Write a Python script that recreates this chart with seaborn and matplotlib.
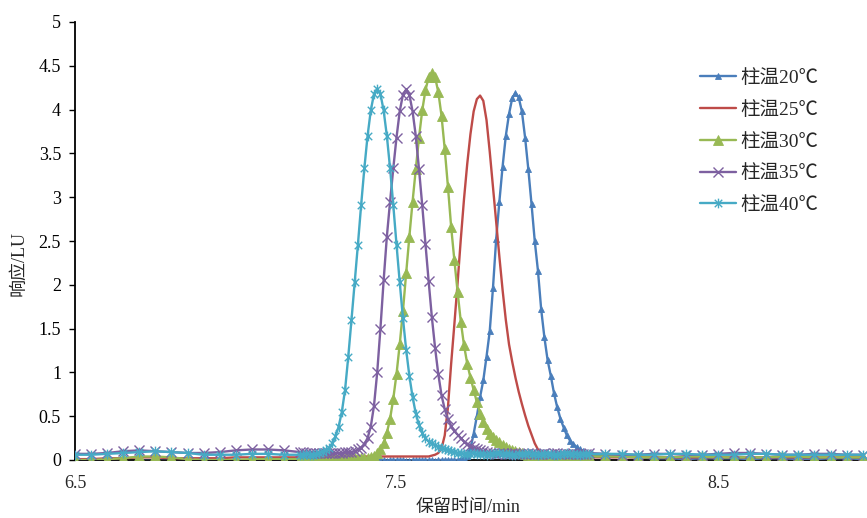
import numpy as np
import pandas as pd
import matplotlib
matplotlib.use("Agg")
import matplotlib.pyplot as plt
import seaborn as sns
from matplotlib.path import Path

# ---------------- data ----------------
series_names = ["柱温20℃", "柱温25℃", "柱温30℃", "柱温35℃", "柱温40℃"]

x_left = [6.50, 6.55, 6.60, 6.65, 6.70, 6.75, 6.80, 6.85, 6.90, 6.95, 7.00, 7.05, 7.10, 7.15]
x_fine = np.round(np.arange(7.20, 8.105, 0.01), 2)  # sampling grid 7.20 ... 8.10
x_right = [8.15, 8.20, 8.25, 8.30, 8.35, 8.40, 8.45, 8.50, 8.55, 8.60, 8.65, 8.70, 8.75, 8.80, 8.85, 8.90, 8.95]

# 柱温20℃
y20_left = [0.00, -0.02, -0.03, -0.02, -0.01, -0.01, -0.01, -0.03, -0.02, -0.01, -0.01, -0.02, -0.01, -0.01]
y20_fine = [0.00, -0.01, -0.01, 0.00, 0.00, -0.01, -0.02, -0.01, 0.00, 0.00,
            -0.01, -0.01, 0.00, 0.00, 0.00, -0.01, -0.01, 0.00, 0.00, 0.00,
            0.00, -0.01, -0.01, 0.00, 0.00, 0.00, 0.00, -0.01, 0.00, 0.00,
            0.00, 0.00, 0.00, -0.01, -0.01, 0.00, 0.00, 0.00, 0.00, 0.00,
            0.00, 0.00, -0.01, 0.00, 0.00, 0.00, 0.00, 0.00, 0.00, 0.00,
            0.01, 0.02,
            0.05, 0.13, 0.30, 0.50, 0.72, 0.91, 1.18, 1.47, 1.96, 2.52, 2.95, 3.35, 3.70, 3.95, 4.13,
            4.19,
            4.14, 3.98, 3.68, 3.32, 2.92, 2.50, 2.16, 1.72, 1.40, 1.14, 0.96, 0.76, 0.60, 0.47,
            0.37, 0.28, 0.22, 0.18, 0.15, 0.12, 0.10, 0.08, 0.06]
y20_right = [0.05, 0.04, 0.03, 0.02, 0.02, 0.01, 0.02, 0.02, 0.02, 0.01, 0.02, 0.02, 0.01, 0.01, 0.02, 0.02, 0.01]

# 柱温25℃
y25_left = [0.01, 0.01, 0.02, 0.02, 0.03, 0.03, 0.02, 0.02, 0.02, 0.02, 0.03, 0.03, 0.03, 0.03]
y25_fine = [0.03, 0.03, 0.04, 0.04, 0.04, 0.03, 0.03, 0.04, 0.04, 0.04,
            0.04, 0.04, 0.03, 0.04, 0.04, 0.04, 0.04, 0.04, 0.04, 0.03,
            0.04, 0.04, 0.04, 0.04, 0.04, 0.04, 0.04, 0.04, 0.04, 0.04,
            0.04, 0.04, 0.04, 0.04, 0.04, 0.04, 0.04, 0.04, 0.04, 0.04,
            0.04,
            0.05, 0.06, 0.08, 0.13, 0.28, 0.60, 1.10, 1.55, 2.02, 2.52, 2.98, 3.38, 3.72, 3.98, 4.12,
            4.16,
            4.10, 3.88, 3.52, 3.12, 2.72, 2.32, 1.94, 1.60, 1.32, 1.12, 0.94, 0.78, 0.64, 0.51,
            0.39, 0.29, 0.19, 0.12, 0.08, 0.06, 0.05,
            0.04, 0.04, 0.04, 0.04, 0.04, 0.04, 0.03, 0.03, 0.03, 0.03, 0.03, 0.03, 0.03]
y25_right = [0.03] * 17

# 柱温30℃
y30_left = [0.00, 0.00, 0.01, 0.02, 0.04, 0.04, 0.03, 0.01, 0.00, 0.00, 0.00, 0.01, 0.01, 0.01]
y30_fine = [0.01, 0.02, 0.02, 0.02, 0.01, 0.02, 0.02, 0.02, 0.02, 0.02,
            0.02, 0.02, 0.02, 0.01, 0.02, 0.02, 0.02, 0.02, 0.02, 0.02, 0.02,
            0.02, 0.03, 0.05, 0.08, 0.12, 0.19, 0.31, 0.47, 0.70, 0.98, 1.32, 1.70, 2.13, 2.55,
            2.95, 3.32, 3.68, 3.99, 4.22, 4.37,
            4.42,
            4.37, 4.20, 3.93, 3.55, 3.12, 2.66, 2.28, 1.92, 1.58, 1.31, 1.10, 0.94, 0.80, 0.66,
            0.53, 0.43, 0.35, 0.30, 0.26, 0.23, 0.20, 0.17, 0.15, 0.13, 0.11, 0.10, 0.09, 0.08,
            0.07, 0.06, 0.05,
            0.04, 0.04, 0.04, 0.05, 0.04, 0.04, 0.04, 0.03, 0.04, 0.04, 0.04, 0.04, 0.03, 0.04,
            0.04, 0.04, 0.04, 0.04]
y30_right = [0.04, 0.04, 0.03, 0.03, 0.03, 0.04, 0.04, 0.03, 0.03, 0.03, 0.03, 0.04, 0.04, 0.03, 0.03, 0.03, 0.03]

# 柱温35℃
y35_left = [0.07, 0.07, 0.08, 0.10, 0.11, 0.10, 0.09, 0.08, 0.08, 0.09, 0.11, 0.12, 0.12, 0.11]
y35_fine = [0.09, 0.09, 0.08, 0.08, 0.08, 0.08, 0.08, 0.08, 0.08, 0.08, 0.08, 0.08, 0.08, 0.08,
            0.09, 0.09,
            0.09, 0.10, 0.12, 0.14, 0.18, 0.25, 0.38, 0.62, 1.00, 1.50, 2.05, 2.55, 2.95, 3.33,
            3.68, 3.98, 4.17,
            4.23,
            4.17, 3.98, 3.70, 3.32, 2.91, 2.47, 2.04, 1.63, 1.28, 0.98, 0.74, 0.58, 0.47, 0.39,
            0.33, 0.29, 0.25, 0.21, 0.18, 0.16, 0.14, 0.12, 0.11, 0.10, 0.09, 0.08,
            0.08, 0.07, 0.08, 0.08, 0.07, 0.07, 0.08, 0.08, 0.07, 0.07,
            0.07, 0.08, 0.08, 0.07, 0.07, 0.07, 0.08, 0.07, 0.07, 0.08,
            0.08, 0.07, 0.07, 0.07, 0.07, 0.08, 0.07, 0.07, 0.07, 0.07, 0.08]
y35_right = [0.07, 0.06, 0.06, 0.07, 0.07, 0.06, 0.06, 0.07, 0.08, 0.08, 0.07, 0.06, 0.06, 0.07, 0.07, 0.06, 0.06]

# 柱温40℃
y40_left = [0.06, 0.06, 0.07, 0.08, 0.09, 0.10, 0.09, 0.08, 0.06, 0.06, 0.06, 0.07, 0.07, 0.06]
y40_fine = [0.06, 0.06, 0.07, 0.06, 0.06, 0.07,
            0.08, 0.09, 0.11, 0.14, 0.19, 0.27, 0.38, 0.55, 0.80, 1.18, 1.60, 2.03, 2.46, 2.91,
            3.33, 3.70, 3.99, 4.18,
            4.24,
            4.18, 3.99, 3.70, 3.33, 2.91, 2.46, 2.03, 1.62, 1.26, 0.96, 0.72, 0.53, 0.40, 0.31,
            0.25, 0.21, 0.19, 0.17, 0.15, 0.14, 0.12, 0.11, 0.10, 0.09, 0.08, 0.08, 0.07,
            0.07, 0.07, 0.08, 0.07, 0.07, 0.07, 0.06, 0.07, 0.07, 0.08,
            0.08, 0.07, 0.07, 0.07, 0.06, 0.06, 0.07, 0.07, 0.07, 0.08,
            0.07, 0.07, 0.06, 0.07, 0.07, 0.07, 0.07, 0.06, 0.06, 0.07,
            0.07, 0.08, 0.07, 0.07, 0.07, 0.06, 0.07, 0.07, 0.07]
y40_right = [0.07, 0.07, 0.06, 0.06, 0.07, 0.07, 0.06, 0.06, 0.06, 0.07, 0.07, 0.06, 0.06, 0.06, 0.06, 0.06, 0.06]

y_ticks = [0, 0.5, 1, 1.5, 2, 2.5, 3, 3.5, 4, 4.5, 5]
y_tick_labels = ["0", "0.5", "1", "1.5", "2", "2.5", "3", "3.5", "4", "4.5", "5"]
x_ticks = [6.5, 7.5, 8.5]
x_tick_labels = ["6.5", "7.5", "8.5"]

# ---------------- table ----------------
y_parts = {
    series_names[0]: (y20_left, y20_fine, y20_right),
    series_names[1]: (y25_left, y25_fine, y25_right),
    series_names[2]: (y30_left, y30_fine, y30_right),
    series_names[3]: (y35_left, y35_fine, y35_right),
    series_names[4]: (y40_left, y40_fine, y40_right),
}
x_all = list(x_left) + list(x_fine) + list(x_right)
frames = []
for name in series_names:
    l, f, r = y_parts[name]
    ys = list(l) + list(f) + list(r)
    assert len(ys) == len(x_all), (name, len(ys), len(x_all))
    frames.append(pd.DataFrame({"t": x_all, "r": ys, "s": name}))
df = pd.concat(frames, ignore_index=True)

# ---------------- style ----------------
sns.set_style("white")
plt.rcParams["font.family"] = ["Liberation Serif", "Noto Sans CJK SC", "DejaVu Sans"]
plt.rcParams["axes.unicode_minus"] = False

star = Path([(-1, -1), (1, 1), (-1, 1), (1, -1), (0, -1.3), (0, 1.3)],
            [Path.MOVETO, Path.LINETO, Path.MOVETO, Path.LINETO, Path.MOVETO, Path.LINETO])

styles = {
    series_names[0]: dict(color="#4A7EBB", marker="^", markersize=4.8, markeredgewidth=0.6),
    series_names[1]: dict(color="#BE4B48", marker=None),
    series_names[2]: dict(color="#98B954", marker="^", markersize=6.5, markeredgewidth=0.6),
    series_names[3]: dict(color="#7D60A0", marker="x", markersize=6.5, markeredgewidth=1.0),
    series_names[4]: dict(color="#46AAC5", marker=star, markersize=7.0, markeredgewidth=1.0,
                          markerfacecolor="none"),
}

fig = plt.figure(figsize=(8.67, 5.18), dpi=100)
ax = fig.add_axes([75 / 867, (518 - 460) / 518, 792 / 867, 438 / 518])

for i, name in enumerate(series_names):
    st = dict(styles[name])
    col = st.pop("color")
    mk = st.pop("marker")
    kw = dict(color=col, linewidth=1.7, zorder=3 + i, label=name)
    if mk is not None:
        kw.update(marker=mk, markeredgecolor=col)
        if "markerfacecolor" not in st:
            kw["markerfacecolor"] = col
    kw.update(st)
    sns.lineplot(data=df[df["s"] == name], x="t", y="r", ax=ax, sort=False,
                 estimator=None, **kw)

ax.set_xlim(6.5, 6.5 + 792 / 321.5)
ax.set_ylim(0, 5)
ax.set_yticks(y_ticks)
ax.set_yticklabels(y_tick_labels)
ax.set_xticks(x_ticks)
ax.set_xticklabels(x_tick_labels)
ax.tick_params(axis="y", direction="out", length=4.5, width=1.0, pad=5.5, labelsize=13,
               left=True, colors="black")
ax.tick_params(axis="x", length=0, pad=11, labelsize=13)

for side in ["top", "right"]:
    ax.spines[side].set_visible(False)
for side in ["left", "bottom"]:
    ax.spines[side].set_color("black")
    ax.spines[side].set_linewidth(1.3)
    ax.spines[side].set_zorder(2)
ax.grid(False)

ax.set_xlabel("保留时间/min", fontsize=13)
ax.set_ylabel("响应/LU", fontsize=13)
ax.xaxis.set_label_coords((468 - 75) / 792, (460 - 499) / 438)
ax.yaxis.set_label_coords((27 - 75) / 792, (460 - 263) / 438)

handles, labels = ax.get_legend_handles_labels()
leg = ax.legend(handles, labels, loc="upper left", bbox_to_anchor=(700 / 867, 1 - 69 / 518),
                bbox_transform=fig.transFigure, frameon=False, fontsize=14,
                handlelength=1.85, handletextpad=0.25, labelspacing=0.72, borderpad=0,
                borderaxespad=0, numpoints=1)

fig.savefig("out.png", dpi=100)
